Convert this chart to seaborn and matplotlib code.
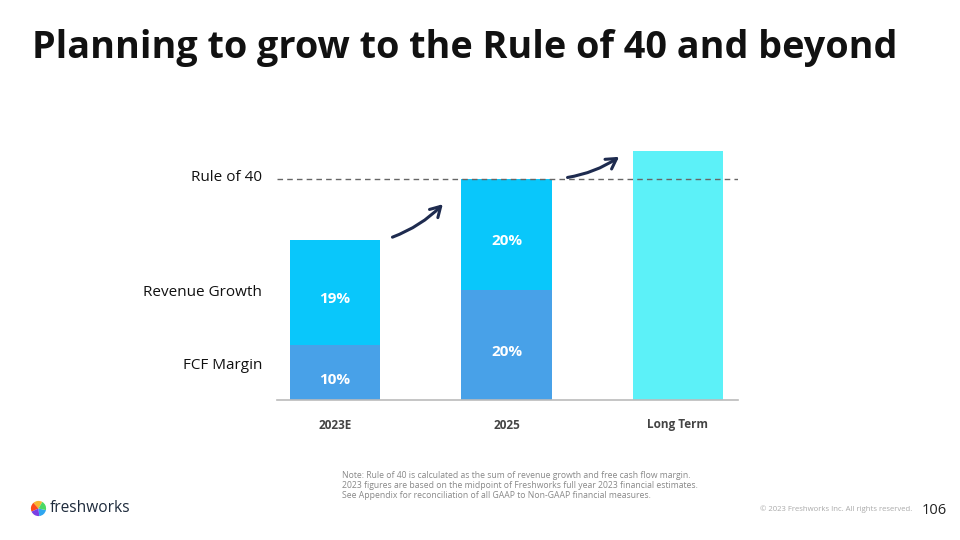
import numpy as np
import pandas as pd
import matplotlib
matplotlib.use("Agg")
import matplotlib.pyplot as plt
import seaborn as sns

# Data
categories = ["2023E", "2025", "Long Term"]
fcf_margin = [10, 20, None]
revenue_growth = [19, 20, None]
long_term_total = 45
rule_of_40 = 40

totals = [fcf_margin[0] + revenue_growth[0], fcf_margin[1] + revenue_growth[1], long_term_total]

df_total = pd.DataFrame({"period": categories, "total": totals})
df_fcf = pd.DataFrame({"period": categories[:2], "fcf": fcf_margin[:2]})

sns.set_theme(style="white")
plt.rcParams["font.family"] = ["Open Sans", "DejaVu Sans"]

fig = plt.figure(figsize=(9.6, 5.4), dpi=100)
ax = fig.add_axes([277 / 960, 1 - 400 / 540, 461 / 960, 260 / 540])

# Colours
c_fcf = "#48A1E8"
c_rev = "#09C7FB"
c_long = "#5CF1F8"
navy = "#1E2B4F"

sns.barplot(data=df_total, x="period", y="total", order=categories,
            hue="period", palette=[c_rev, c_rev, c_long], legend=False,
            width=0.53, saturation=1, linewidth=0, ax=ax)
sns.barplot(data=df_fcf, x="period", y="fcf", order=categories,
            color=c_fcf, width=0.53, saturation=1, linewidth=0, ax=ax)

ax.set_xlim(-0.338, 2.35)
ax.set_ylim(0, 47.06)
ax.set_xlabel("")
ax.set_ylabel("")
ax.set_yticks([])
for s in ["top", "right", "left"]:
    ax.spines[s].set_visible(False)
ax.spines["bottom"].set_color("#BBBBBB")
ax.spines["bottom"].set_linewidth(1.2)
ax.tick_params(axis="x", length=0, pad=14)
for lbl in ax.get_xticklabels():
    lbl.set_fontsize(8.5)
    lbl.set_fontweight("bold")
    lbl.set_color("#444444")
ax.get_xticklabels()[2].set_y(0.006)

# Rule of 40 line
ax.axhline(rule_of_40, color="#666666", linestyle=(0, (4, 3)), linewidth=1)

# Segment labels
for i in range(2):
    ax.text(i, fcf_margin[i] / 2 - 1.4, f"{fcf_margin[i]}%", ha="center", va="center",
            color="white", fontsize=11, fontweight="bold")
    ax.text(i, fcf_margin[i] + revenue_growth[i] / 2 - 1.2, f"{revenue_growth[i]}%",
            ha="center", va="center", color="white", fontsize=11, fontweight="bold")

# Row labels on the left
for txt, yv in [("Rule of 40", 40.2), ("Revenue Growth", 19.5), ("FCF Margin", 6.3)]:
    ax.text(-0.426, yv, txt, ha="right", va="center", fontsize=11, color="#111111",
            clip_on=False)

# Arrows
ax.annotate("", xy=(0.64, 35.8), xytext=(0.32, 29.3),
            arrowprops=dict(arrowstyle="->,head_length=0.6,head_width=0.35",
                            connectionstyle="arc3,rad=0.12", color=navy, lw=2.2))
ax.annotate("", xy=(1.67, 44.3), xytext=(1.34, 40.2),
            arrowprops=dict(arrowstyle="->,head_length=0.6,head_width=0.35",
                            connectionstyle="arc3,rad=0.12", color=navy, lw=2.2))

# Title
fig.text(32 / 960, 1 - 48 / 540, "Planning to grow to the Rule of 40 and beyond",
         fontsize=27.2, fontweight="bold", color="#111111", va="center", ha="left")

# Footnotes
notes = ["Note: Rule of 40 is calculated as the sum of revenue growth and free cash flow margin.",
         "2023 figures are based on the midpoint of Freshworks full year 2023 financial estimates.",
         "See Appendix for reconciliation of all GAAP to Non-GAAP financial measures."]
for k, n in enumerate(notes):
    fig.text(342 / 960, 1 - (476 + 10 * k) / 540, n, fontsize=6.2, color="#888888", va="center")

fig.text(912 / 960, 1 - 509 / 540, "\u00a9 2023 Freshworks Inc. All rights reserved.",
         fontsize=5.6, color="#AAAAAA", ha="right", va="center")
fig.text(947 / 960, 1 - 510 / 540, "106", fontsize=10.5, color="#222222", ha="right", va="center")

# Logo
lax = fig.add_axes([29 / 960, 1 - 518 / 540, 19 / 960, 19 / 540])
lax.pie([1, 1, 1, 1, 1], colors=["#F7B733", "#FC4A1A", "#7B3FE4", "#2FA6F0", "#4CD964"],
        startangle=60, wedgeprops=dict(linewidth=0))
lax.set_aspect("equal")
lax.axis("off")
fig.text(50 / 960, 1 - 508 / 540, "freshworks", fontsize=11.2, color="#1E2B3C", va="center")

fig.savefig("out.png", dpi=100)
